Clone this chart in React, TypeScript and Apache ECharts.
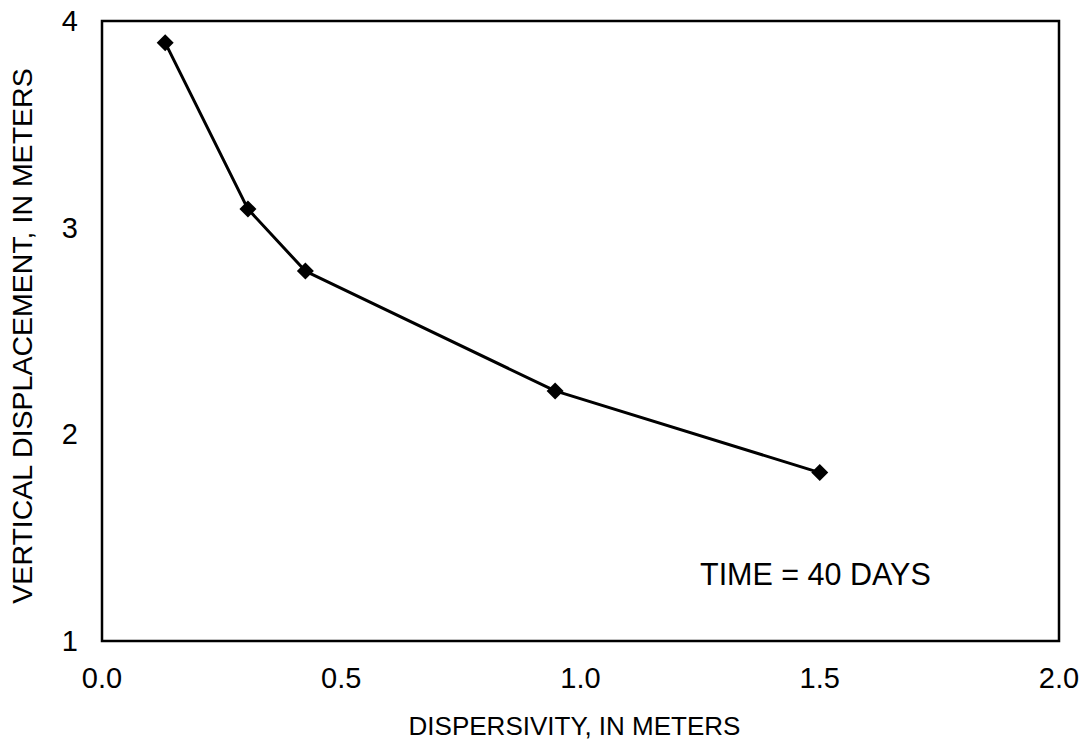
import React, { useEffect, useRef } from "react";
import * as echarts from "echarts";

// Dispersivity (m) versus vertical displacement (m) after 40 days
const dispersivity = [0.132, 0.305, 0.425, 0.947, 1.5];
const displacement = [3.895, 3.09, 2.79, 2.21, 1.815];

const xTicks = { min: 0, max: 2, interval: 0.5 };
const yTicks = { min: 1, max: 4, interval: 1 };

const xTitle = "DISPERSIVITY, IN METERS";
const yTitle = "VERTICAL DISPLACEMENT, IN METERS";
const note = "TIME = 40 DAYS";

const FONT = '"Liberation Sans", Arial, sans-serif';

export default function App() {
  const ref = useRef<HTMLDivElement>(null);

  useEffect(() => {
    document.body.style.margin = "0";
    const chart = echarts.init(ref.current!, null, { renderer: "svg" });
    chart.setOption({
      animation: false,
      backgroundColor: "#fff",
      textStyle: { fontFamily: FONT, color: "#000" },
      grid: {
        left: 102,
        right: 24,
        top: 21,
        bottom: 101,
        outerBoundsMode: "none",
        containLabel: false,
        show: true,
        borderColor: "#000",
        borderWidth: 2.5,
      },
      xAxis: {
        type: "value",
        min: xTicks.min,
        max: xTicks.max,
        interval: xTicks.interval,
        axisLine: { show: false },
        axisTick: { show: false },
        splitLine: { show: false },
        axisLabel: {
          color: "#000",
          fontSize: 29,
          fontFamily: FONT,
          margin: 22,
          formatter: (v: number) => v.toFixed(1),
        },
        name: xTitle,
        nameLocation: "middle",
        nameGap: 72,
        nameTextStyle: {
          color: "#000",
          fontSize: 26,
          fontFamily: FONT,
          padding: [0, 12, 0, 0],
        },
      },
      yAxis: {
        type: "value",
        min: yTicks.min,
        max: yTicks.max,
        interval: yTicks.interval,
        axisLine: { show: false },
        axisTick: { show: false },
        splitLine: { show: false },
        axisLabel: {
          color: "#000",
          fontSize: 29,
          fontFamily: FONT,
          margin: 24,
          padding: [0, 0, 7, 0],
        },
        name: yTitle,
        nameLocation: "middle",
        nameGap: 66,
        nameTextStyle: {
          color: "#000",
          fontSize: 28.5,
          fontFamily: FONT,
          padding: [0, 10, 0, 0],
        },
      },
      graphic: [
        {
          type: "text",
          left: 700,
          top: 558,
          style: {
            text: note,
            fontSize: 30.5,
            fontFamily: FONT,
            fill: "#000",
          },
        },
      ],
      series: [
        {
          type: "line",
          data: dispersivity.map((x, i) => [x, displacement[i]]),
          symbol: "diamond",
          symbolSize: 17,
          lineStyle: { color: "#000", width: 3 },
          itemStyle: { color: "#000" },
        },
      ],
    });
    return () => chart.dispose();
  }, []);

  return <div ref={ref} style={{ width: 1083, height: 742 }} />;
}
